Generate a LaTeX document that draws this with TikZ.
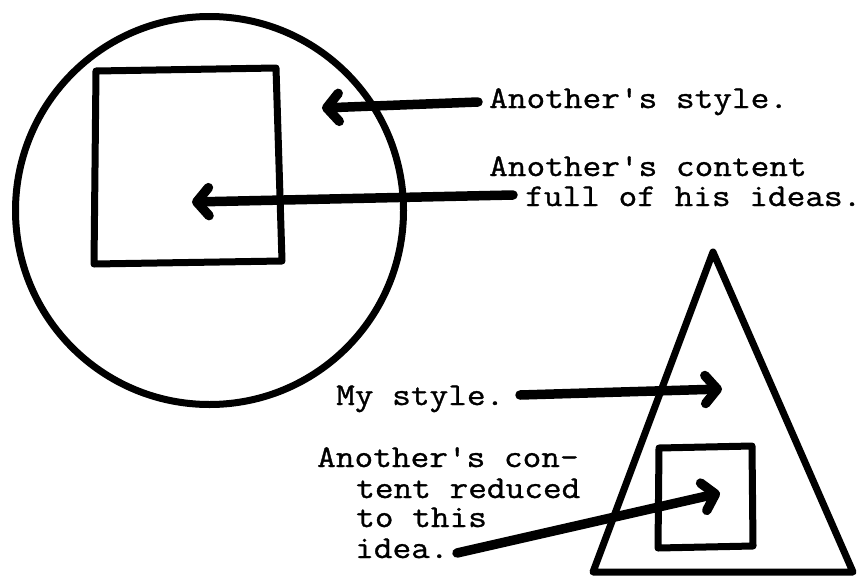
\documentclass[tikz,border=0pt]{standalone}
\usepackage{fontspec}
\newfontfamily\tw{Latin Modern Mono}[FakeStretch=1.144, FakeBold=1]
\usetikzlibrary{arrows.meta}
\begin{document}
\begin{tikzpicture}[x=1pt,y=-1pt,
  shape line/.style={line width=7pt, line join=round, line cap=round},
  pointer/.style={line width=9.5pt, line cap=round,
    -{Straight Barb[length=12pt, width=28pt, line cap=round, line join=round]}},
  label/.style={anchor=base west, inner sep=0pt, font=\tw\fontsize{31.7}{30}\selectfont}]
\fill[white] (0,0) rectangle (866,581);
\useasboundingbox (0,0) rectangle (866,581);
% left figure
\draw[shape line] (209.5,210.5) circle[radius=194];
\draw[shape line] (96,71) -- (276,68) -- (282,261) -- (94,264) -- cycle;
% right figure
\draw[shape line] (713,252) -- (853,572) -- (593,572) -- cycle;
\draw[shape line] (659,448) -- (752,446) -- (753,546) -- (658,548) -- cycle;
% labels
\node[label] (s1) at (489,108) {Another's style.};
\node[label] (c1) at (489,176) {Another's content};
\node[label] (c2) at (525,206) {full of his ideas.};
\node[label] (m1) at (336,405) {My style.};
\node[label] (r1) at (317,467) {Another's con-};
\node[label] (r2) at (356,498) {tent reduced};
\node[label] (r3) at (356,527) {to this};
\node[label] (r4) at (355,558) {idea.};
% arrow ends
\coordinate (t1) at (478,102); \coordinate (h1) at (322,108);
\coordinate (t2) at (513,195); \coordinate (h2) at (192,202);
\coordinate (t3) at (520,395); \coordinate (h3) at (722,389);
\coordinate (t4) at (457,553); \coordinate (h4) at (720,493);
\draw[pointer] (t1) -- (h1);
\draw[pointer] (t2) -- (h2);
\draw[pointer] (t3) -- (h3);
\draw[pointer] (t4) -- (h4);
\end{tikzpicture}
\end{document}
